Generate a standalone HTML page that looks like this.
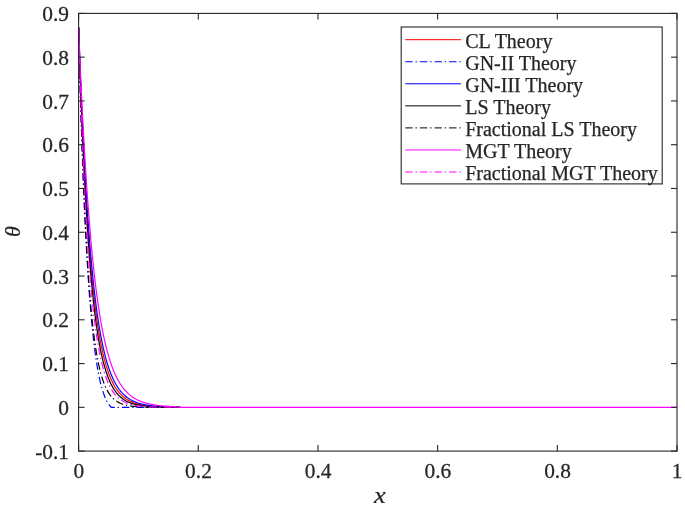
<!DOCTYPE html>
<html><head><meta charset="utf-8"><style>
html,body{margin:0;padding:0;background:#fff;}
svg{display:block;}
text{font-family:"Liberation Serif","Times New Roman",serif;fill:#262626;stroke:#262626;stroke-width:0.25px;}
</style></head><body>
<svg width="685" height="506" viewBox="0 0 685 506">
<rect x="0" y="0" width="685" height="506" fill="#fff"/>
<path d="M78.60,27.41 L78.90,36.42 L79.20,45.21 L79.50,53.80 L79.80,62.18 L80.10,70.37 L80.40,78.36 L80.69,86.16 L80.99,93.78 L81.29,101.21 L81.59,108.47 L81.89,115.56 L82.19,122.48 L82.49,129.23 L82.79,135.83 L83.09,142.27 L83.39,148.55 L83.69,154.69 L83.99,160.68 L84.28,166.53 L84.58,172.24 L84.88,177.81 L85.18,183.26 L85.48,188.57 L85.78,193.76 L86.08,198.82 L86.38,203.77 L86.68,208.60 L86.98,213.31 L87.28,217.91 L87.58,222.40 L87.88,226.79 L88.17,231.07 L88.47,235.25 L88.77,239.33 L89.07,243.31 L89.37,247.20 L89.67,251.00 L89.97,254.71 L90.27,258.33 L90.57,261.86 L90.87,265.31 L91.17,268.68 L91.47,271.97 L91.76,275.18 L92.06,278.31 L92.36,281.37 L92.66,284.36 L92.96,287.27 L93.26,290.12 L93.56,292.90 L93.86,295.61 L94.16,298.26 L94.46,300.85 L94.76,303.37 L95.06,305.84 L95.36,308.25 L95.65,310.60 L95.95,312.89 L96.25,315.13 L96.55,317.32 L96.85,319.45 L97.15,321.53 L97.45,323.57 L97.75,325.56 L98.05,327.49 L98.35,329.39 L98.65,331.24 L98.95,333.04 L99.24,334.80 L99.54,336.52 L99.84,338.20 L100.14,339.84 L100.44,341.44 L100.74,343.00 L101.04,344.53 L101.34,346.02 L101.64,347.47 L101.94,348.89 L102.24,350.28 L102.54,351.63 L102.84,352.95 L103.13,354.24 L103.43,355.50 L103.73,356.73 L104.03,357.93 L104.33,359.10 L104.63,360.24 L104.93,361.36 L105.23,362.45 L105.53,363.52 L105.83,364.55 L106.13,365.57 L106.43,366.56 L106.72,367.53 L107.02,368.47 L107.32,369.39 L107.62,370.29 L107.92,371.17 L108.22,372.03 L108.52,372.86 L108.82,373.68 L109.12,374.48 L109.42,375.26 L109.72,376.02 L110.02,376.76 L110.32,377.49 L110.61,378.19 L110.91,378.89 L111.21,379.56 L111.51,380.22 L111.81,380.86 L112.11,381.49 L112.41,382.10 L112.71,382.70 L113.01,383.28 L113.31,383.85 L113.61,384.41 L113.91,384.95 L114.20,385.49 L114.50,386.00 L114.80,386.51 L115.10,387.00 L115.40,387.48 L115.70,387.96 L116.00,388.41 L116.30,388.86 L116.60,389.30 L116.90,389.73 L117.20,390.15 L117.50,390.55 L117.80,390.95 L118.09,391.34 L118.39,391.72 L118.69,392.09 L118.99,392.45 L119.29,392.80 L119.59,393.15 L119.89,393.48 L120.19,393.81 L120.49,394.13 L120.79,394.45 L121.09,394.75 L121.39,395.05 L121.68,395.34 L121.98,395.63 L122.28,395.90 L122.58,396.17 L122.88,396.44 L123.18,396.70 L123.48,396.95 L123.78,397.20 L124.08,397.44 L124.38,397.67 L124.68,397.90 L124.98,398.12 L125.28,398.34 L125.57,398.55 L125.87,398.76 L126.17,398.97 L126.47,399.16 L126.77,399.36 L127.07,399.55 L127.37,399.73 L127.67,399.91 L127.97,400.09 L128.27,400.26 L128.57,400.43 L128.87,400.59 L129.16,400.75 L129.46,400.91 L129.76,401.06 L130.06,401.21 L130.36,401.35 L130.66,401.49 L130.96,401.63 L131.26,401.77 L131.56,401.90 L131.86,402.03 L132.16,402.15 L132.46,402.28 L132.76,402.40 L133.05,402.51 L133.35,402.63 L133.65,402.74 L133.95,402.85 L134.25,402.95 L134.55,403.06 L134.85,403.16 L135.15,403.26 L135.45,403.36 L135.75,403.45 L136.05,403.54 L136.35,403.63 L136.64,403.72 L136.94,403.80 L137.24,403.89 L137.54,403.97 L137.84,404.05 L138.14,404.13 L138.44,404.20 L138.74,404.28 L139.04,404.35 L139.34,404.42 L139.64,404.49 L139.94,404.56 L140.24,404.62 L140.53,404.69 L140.83,404.75 L141.13,404.81 L141.43,404.87 L141.73,404.93 L142.03,404.99 L142.33,405.04 L142.63,405.10 L142.93,405.15 L143.23,405.20 L143.53,405.25 L143.83,405.30 L144.12,405.35 L144.42,405.40 L144.72,405.44 L145.02,405.49 L145.32,405.53 L145.62,405.57 L145.92,405.61 L146.22,405.65 L146.52,405.69 L146.82,405.73 L147.12,405.77 L147.42,405.81 L147.72,405.84 L148.01,405.88 L148.31,405.91 L148.61,405.95 L148.91,405.98 L149.21,406.01 L149.51,406.04 L149.81,406.07 L150.11,406.10 L150.41,406.13 L150.71,406.16 L151.01,406.19 L151.31,406.22 L151.60,406.24 L151.90,406.27 L152.20,406.29 L152.50,406.32 L152.80,406.34 L153.10,406.37 L153.40,406.39 L153.70,406.41 L154.00,406.43 L154.30,406.45 L154.60,406.47 L154.90,406.49 L155.20,406.51 L155.49,406.53 L155.79,406.55 L156.09,406.57 L156.39,406.59 L156.69,406.61 L156.99,406.62 L157.29,406.64 L157.59,406.66 L157.89,406.67 L158.19,406.69 L158.49,406.70 L158.79,406.72 L159.08,406.73 L159.38,406.75 L159.68,406.76 L159.98,406.77 L160.28,406.79 L160.58,406.80 L160.88,406.81 L161.18,406.83 L161.48,406.84 L161.78,406.85 L162.08,406.86 L162.38,406.87 L162.68,406.88 L162.97,406.89 L163.27,406.90 L163.57,406.91 L163.87,406.92 L164.17,406.93 L164.47,406.94 L164.77,406.95 L165.07,406.96 L165.37,406.97 L165.67,406.98 L165.97,406.99 L166.27,406.99 L166.56,407.00 L166.86,407.01 L167.16,407.02 L167.46,407.03 L167.76,407.03 L168.06,407.04 L168.36,407.05 L168.66,407.05 L168.96,407.06 L169.26,407.07 L169.56,407.07 L169.86,407.08 L170.16,407.08 L170.45,407.09 L170.75,407.10 L171.05,407.10 L171.35,407.11 L171.65,407.11 L171.95,407.12 L172.25,407.12 L172.55,407.13 L172.85,407.13 L173.15,407.14 L173.45,407.14 L173.75,407.15 L174.04,407.15 L174.34,407.15 L174.64,407.16 L174.94,407.16 L175.24,407.17 L175.54,407.17 L175.84,407.17 L176.14,407.18 L176.44,407.18 L176.74,407.19 L177.04,407.19 L177.34,407.19 L177.64,407.20 L177.93,407.20 L178.23,407.20 L178.53,407.20 L178.83,407.21 L179.13,407.21 L179.43,407.21 L179.73,407.22 L180.03,407.22 L180.33,407.22" fill="none" stroke="#ff0000" stroke-width="1.20" stroke-linejoin="round"/>
<path d="M78.60,27.41 L78.90,39.56 L79.20,51.32 L79.50,62.71 L79.80,73.74 L80.10,84.42 L80.40,94.77 L80.69,104.79 L80.99,114.51 L81.29,123.92 L81.59,133.04 L81.89,141.88 L82.19,150.44 L82.49,158.75 L82.79,166.80 L83.09,174.60 L83.39,182.17 L83.69,189.51 L83.99,196.63 L84.28,203.53 L84.58,210.22 L84.88,216.71 L85.18,223.00 L85.48,229.11 L85.78,235.03 L86.08,240.77 L86.38,246.35 L86.68,251.75 L86.98,256.99 L87.28,262.08 L87.58,267.01 L87.88,271.80 L88.17,276.44 L88.47,280.95 L88.77,285.31 L89.07,289.55 L89.37,293.66 L89.67,297.65 L89.97,301.52 L90.27,305.27 L90.57,308.91 L90.87,312.43 L91.17,315.86 L91.47,319.17 L91.76,322.39 L92.06,325.51 L92.36,328.54 L92.66,331.47 L92.96,334.31 L93.26,337.07 L93.56,339.74 L93.86,342.33 L94.16,344.84 L94.46,347.27 L94.76,349.63 L95.06,351.91 L95.36,354.12 L95.65,356.26 L95.95,358.34 L96.25,360.35 L96.55,362.29 L96.85,364.18 L97.15,366.00 L97.45,367.77 L97.75,369.47 L98.05,371.13 L98.35,372.73 L98.65,374.27 L98.95,375.77 L99.24,377.22 L99.54,378.62 L99.84,379.97 L100.14,381.28 L100.44,382.55 L100.74,383.77 L101.04,384.95 L101.34,386.09 L101.64,387.19 L101.94,388.25 L102.24,389.28 L102.54,390.27 L102.84,391.22 L103.13,392.15 L103.43,393.03 L103.73,393.89 L104.03,394.72 L104.33,395.52 L104.63,396.28 L104.93,397.02 L105.23,397.73 L105.53,398.42 L105.83,399.08 L106.13,399.71 L106.43,400.32 L106.72,400.91 L107.02,401.47 L107.32,402.01 L107.62,402.54 L107.92,403.03 L108.22,403.51 L108.52,403.97 L108.82,404.41 L109.12,404.84 L109.42,405.24 L109.72,405.63 L110.02,406.00 L110.32,406.36 L110.61,406.70 L110.91,407.02 L111.21,407.33 L111.51,407.33 L111.81,407.33 L112.11,407.33 L112.41,407.33 L112.71,407.33 L113.01,407.33 L113.31,407.33 L113.61,407.33 L113.91,407.33 L114.20,407.33 L114.50,407.33 L114.80,407.33 L115.10,407.33 L115.40,407.33 L115.70,407.33 L116.00,407.33 L116.30,407.33 L116.60,407.33 L116.90,407.33 L117.20,407.33 L117.50,407.33 L117.80,407.33 L118.09,407.33 L118.39,407.33 L118.69,407.33 L118.99,407.33 L119.29,407.33 L119.59,407.33 L119.89,407.33 L120.19,407.33 L120.49,407.33 L120.79,407.33 L121.09,407.33 L121.39,407.33 L121.68,407.33 L121.98,407.33 L122.28,407.33 L122.58,407.33 L122.88,407.33 L123.18,407.33 L123.48,407.33 L123.78,407.33 L124.08,407.33 L124.38,407.33 L124.68,407.33 L124.98,407.33 L125.28,407.33 L125.57,407.33 L125.87,407.33 L126.17,407.33 L126.47,407.33 L126.77,407.33 L127.07,407.33 L127.37,407.33 L127.67,407.33 L127.97,407.33 L128.27,407.33 L128.57,407.33 L128.87,407.33 L129.16,407.33 L129.46,407.33 L129.76,407.33 L130.06,407.33 L130.36,407.33 L130.66,407.33 L130.96,407.33 L131.26,407.33 L131.56,407.33 L131.86,407.33 L132.16,407.33 L132.46,407.33 L132.76,407.33 L133.05,407.33 L133.35,407.33 L133.65,407.33 L133.95,407.33 L134.25,407.33 L134.55,407.33 L134.85,407.33 L135.15,407.33 L135.45,407.33 L135.75,407.33 L136.05,407.33 L136.35,407.33 L136.64,407.33 L136.94,407.33 L137.24,407.33 L137.54,407.33 L137.84,407.33 L138.14,407.33 L138.44,407.33 L138.74,407.33 L139.04,407.33 L139.34,407.33 L139.64,407.33 L139.94,407.33 L140.24,407.33 L140.53,407.33 L140.83,407.33 L141.13,407.33 L141.43,407.33 L141.73,407.33 L142.03,407.33 L142.33,407.33 L142.63,407.33 L142.93,407.33 L143.23,407.33 L143.53,407.33 L143.83,407.33 L144.12,407.33 L144.42,407.33 L144.72,407.33 L145.02,407.33 L145.32,407.33 L145.62,407.33 L145.92,407.33 L146.22,407.33 L146.52,407.33 L146.82,407.33 L147.12,407.33 L147.42,407.33 L147.72,407.33 L148.01,407.33 L148.31,407.33 L148.61,407.33 L148.91,407.33 L149.21,407.33 L149.51,407.33 L149.81,407.33 L150.11,407.33 L150.41,407.33 L150.71,407.33 L151.01,407.33 L151.31,407.33 L151.60,407.33 L151.90,407.33 L152.20,407.33 L152.50,407.33 L152.80,407.33 L153.10,407.33 L153.40,407.33 L153.70,407.33 L154.00,407.33 L154.30,407.33 L154.60,407.33 L154.90,407.33 L155.20,407.33 L155.49,407.33 L155.79,407.33 L156.09,407.33 L156.39,407.33 L156.69,407.33 L156.99,407.33 L157.29,407.33 L157.59,407.33 L157.89,407.33 L158.19,407.33 L158.49,407.33 L158.79,407.33 L159.08,407.33 L159.38,407.33 L159.68,407.33 L159.98,407.33 L160.28,407.33 L160.58,407.33 L160.88,407.33 L161.18,407.33 L161.48,407.33 L161.78,407.33 L162.08,407.33 L162.38,407.33 L162.68,407.33 L162.97,407.33 L163.27,407.33 L163.57,407.33 L163.87,407.33 L164.17,407.33 L164.47,407.33 L164.77,407.33 L165.07,407.33 L165.37,407.33 L165.67,407.33 L165.97,407.33 L166.27,407.33 L166.56,407.33 L166.86,407.33 L167.16,407.33 L167.46,407.33 L167.76,407.33 L168.06,407.33 L168.36,407.33 L168.66,407.33 L168.96,407.33 L169.26,407.33 L169.56,407.33 L169.86,407.33 L170.16,407.33 L170.45,407.33 L170.75,407.33 L171.05,407.33 L171.35,407.33 L171.65,407.33 L171.95,407.33 L172.25,407.33 L172.55,407.33 L172.85,407.33 L173.15,407.33 L173.45,407.33 L173.75,407.33 L174.04,407.33 L174.34,407.33 L174.64,407.33 L174.94,407.33 L175.24,407.33 L175.54,407.33 L175.84,407.33 L176.14,407.33 L176.44,407.33 L176.74,407.33 L177.04,407.33 L177.34,407.33 L177.64,407.33 L177.93,407.33 L178.23,407.33 L178.53,407.33 L178.83,407.33 L179.13,407.33 L179.43,407.33 L179.73,407.33 L180.03,407.33 L180.33,407.33" fill="none" stroke="#0000ff" stroke-width="1.20" stroke-dasharray="7.4 2.8 1.4 3.0" stroke-linejoin="round"/>
<path d="M78.60,27.41 L78.90,35.86 L79.20,44.12 L79.50,52.20 L79.80,60.11 L80.10,67.83 L80.40,75.38 L80.69,82.77 L80.99,89.99 L81.29,97.05 L81.59,103.95 L81.89,110.70 L82.19,117.30 L82.49,123.76 L82.79,130.07 L83.09,136.23 L83.39,142.27 L83.69,148.16 L83.99,153.93 L84.28,159.57 L84.58,165.08 L84.88,170.47 L85.18,175.74 L85.48,180.89 L85.78,185.93 L86.08,190.86 L86.38,195.67 L86.68,200.38 L86.98,204.99 L87.28,209.49 L87.58,213.89 L87.88,218.19 L88.17,222.40 L88.47,226.52 L88.77,230.54 L89.07,234.47 L89.37,238.32 L89.67,242.08 L89.97,245.75 L90.27,249.35 L90.57,252.86 L90.87,256.30 L91.17,259.66 L91.47,262.95 L91.76,266.16 L92.06,269.30 L92.36,272.37 L92.66,275.37 L92.96,278.31 L93.26,281.18 L93.56,283.99 L93.86,286.73 L94.16,289.41 L94.46,292.04 L94.76,294.60 L95.06,297.11 L95.36,299.56 L95.65,301.96 L95.95,304.31 L96.25,306.60 L96.55,308.84 L96.85,311.03 L97.15,313.17 L97.45,315.27 L97.75,317.32 L98.05,319.32 L98.35,321.28 L98.65,323.19 L98.95,325.06 L99.24,326.89 L99.54,328.68 L99.84,330.43 L100.14,332.14 L100.44,333.82 L100.74,335.45 L101.04,337.05 L101.34,338.61 L101.64,340.14 L101.94,341.64 L102.24,343.10 L102.54,344.53 L102.84,345.93 L103.13,347.29 L103.43,348.63 L103.73,349.93 L104.03,351.21 L104.33,352.46 L104.63,353.68 L104.93,354.87 L105.23,356.04 L105.53,357.18 L105.83,358.30 L106.13,359.39 L106.43,360.46 L106.72,361.50 L107.02,362.52 L107.32,363.52 L107.62,364.49 L107.92,365.44 L108.22,366.38 L108.52,367.29 L108.82,368.18 L109.12,369.05 L109.42,369.90 L109.72,370.73 L110.02,371.55 L110.32,372.34 L110.61,373.12 L110.91,373.88 L111.21,374.63 L111.51,375.35 L111.81,376.07 L112.11,376.76 L112.41,377.44 L112.71,378.11 L113.01,378.76 L113.31,379.39 L113.61,380.01 L113.91,380.62 L114.20,381.22 L114.50,381.80 L114.80,382.37 L115.10,382.92 L115.40,383.46 L115.70,383.99 L116.00,384.51 L116.30,385.02 L116.60,385.52 L116.90,386.00 L117.20,386.48 L117.50,386.94 L117.80,387.40 L118.09,387.84 L118.39,388.27 L118.69,388.70 L118.99,389.11 L119.29,389.52 L119.59,389.91 L119.89,390.30 L120.19,390.68 L120.49,391.05 L120.79,391.41 L121.09,391.77 L121.39,392.11 L121.68,392.45 L121.98,392.78 L122.28,393.11 L122.58,393.42 L122.88,393.73 L123.18,394.03 L123.48,394.33 L123.78,394.62 L124.08,394.90 L124.38,395.18 L124.68,395.45 L124.98,395.71 L125.28,395.97 L125.57,396.22 L125.87,396.47 L126.17,396.71 L126.47,396.95 L126.77,397.18 L127.07,397.41 L127.37,397.63 L127.67,397.84 L127.97,398.05 L128.27,398.26 L128.57,398.46 L128.87,398.66 L129.16,398.85 L129.46,399.04 L129.76,399.23 L130.06,399.41 L130.36,399.58 L130.66,399.75 L130.96,399.92 L131.26,400.09 L131.56,400.25 L131.86,400.41 L132.16,400.56 L132.46,400.71 L132.76,400.86 L133.05,401.00 L133.35,401.14 L133.65,401.28 L133.95,401.42 L134.25,401.55 L134.55,401.68 L134.85,401.80 L135.15,401.92 L135.45,402.04 L135.75,402.16 L136.05,402.28 L136.35,402.39 L136.64,402.50 L136.94,402.61 L137.24,402.71 L137.54,402.81 L137.84,402.92 L138.14,403.01 L138.44,403.11 L138.74,403.20 L139.04,403.30 L139.34,403.38 L139.64,403.47 L139.94,403.56 L140.24,403.64 L140.53,403.72 L140.83,403.80 L141.13,403.88 L141.43,403.96 L141.73,404.03 L142.03,404.11 L142.33,404.18 L142.63,404.25 L142.93,404.32 L143.23,404.39 L143.53,404.45 L143.83,404.51 L144.12,404.58 L144.42,404.64 L144.72,404.70 L145.02,404.76 L145.32,404.81 L145.62,404.87 L145.92,404.93 L146.22,404.98 L146.52,405.03 L146.82,405.08 L147.12,405.13 L147.42,405.18 L147.72,405.23 L148.01,405.28 L148.31,405.32 L148.61,405.37 L148.91,405.41 L149.21,405.45 L149.51,405.49 L149.81,405.54 L150.11,405.57 L150.41,405.61 L150.71,405.65 L151.01,405.69 L151.31,405.73 L151.60,405.76 L151.90,405.80 L152.20,405.83 L152.50,405.86 L152.80,405.90 L153.10,405.93 L153.40,405.96 L153.70,405.99 L154.00,406.02 L154.30,406.05 L154.60,406.08 L154.90,406.11 L155.20,406.13 L155.49,406.16 L155.79,406.19 L156.09,406.21 L156.39,406.24 L156.69,406.26 L156.99,406.28 L157.29,406.31 L157.59,406.33 L157.89,406.35 L158.19,406.37 L158.49,406.40 L158.79,406.42 L159.08,406.44 L159.38,406.46 L159.68,406.48 L159.98,406.49 L160.28,406.51 L160.58,406.53 L160.88,406.55 L161.18,406.57 L161.48,406.58 L161.78,406.60 L162.08,406.62 L162.38,406.63 L162.68,406.65 L162.97,406.66 L163.27,406.68 L163.57,406.69 L163.87,406.71 L164.17,406.72 L164.47,406.73 L164.77,406.75 L165.07,406.76 L165.37,406.77 L165.67,406.79 L165.97,406.80 L166.27,406.81 L166.56,406.82 L166.86,406.83 L167.16,406.84 L167.46,406.85 L167.76,406.86 L168.06,406.88 L168.36,406.89 L168.66,406.90 L168.96,406.90 L169.26,406.91 L169.56,406.92 L169.86,406.93 L170.16,406.94 L170.45,406.95 L170.75,406.96 L171.05,406.97 L171.35,406.97 L171.65,406.98 L171.95,406.99 L172.25,407.00 L172.55,407.01 L172.85,407.01 L173.15,407.02 L173.45,407.03 L173.75,407.03 L174.04,407.04 L174.34,407.05 L174.64,407.05 L174.94,407.06 L175.24,407.06 L175.54,407.07 L175.84,407.08 L176.14,407.08 L176.44,407.09 L176.74,407.09 L177.04,407.10 L177.34,407.10 L177.64,407.11 L177.93,407.11 L178.23,407.12 L178.53,407.12 L178.83,407.13 L179.13,407.13 L179.43,407.14 L179.73,407.14 L180.03,407.15 L180.33,407.15" fill="none" stroke="#0000ff" stroke-width="1.20" stroke-linejoin="round"/>
<path d="M78.60,27.41 L78.90,37.06 L79.20,46.48 L79.50,55.65 L79.80,64.59 L80.10,73.30 L80.40,81.79 L80.69,90.07 L80.99,98.14 L81.29,106.00 L81.59,113.66 L81.89,121.12 L82.19,128.40 L82.49,135.49 L82.79,142.40 L83.09,149.13 L83.39,155.70 L83.69,162.09 L83.99,168.33 L84.28,174.40 L84.58,180.33 L84.88,186.10 L85.18,191.72 L85.48,197.20 L85.78,202.54 L86.08,207.75 L86.38,212.82 L86.68,217.77 L86.98,222.59 L87.28,227.28 L87.58,231.86 L87.88,236.32 L88.17,240.67 L88.47,244.90 L88.77,249.03 L89.07,253.06 L89.37,256.98 L89.67,260.80 L89.97,264.53 L90.27,268.16 L90.57,271.69 L90.87,275.14 L91.17,278.50 L91.47,281.78 L91.76,284.97 L92.06,288.08 L92.36,291.11 L92.66,294.07 L92.96,296.95 L93.26,299.75 L93.56,302.49 L93.86,305.15 L94.16,307.75 L94.46,310.28 L94.76,312.75 L95.06,315.15 L95.36,317.50 L95.65,319.78 L95.95,322.00 L96.25,324.17 L96.55,326.29 L96.85,328.35 L97.15,330.36 L97.45,332.31 L97.75,334.22 L98.05,336.08 L98.35,337.89 L98.65,339.65 L98.95,341.38 L99.24,343.05 L99.54,344.69 L99.84,346.28 L100.14,347.83 L100.44,349.34 L100.74,350.82 L101.04,352.25 L101.34,353.65 L101.64,355.02 L101.94,356.35 L102.24,357.64 L102.54,358.91 L102.84,360.14 L103.13,361.34 L103.43,362.51 L103.73,363.65 L104.03,364.76 L104.33,365.84 L104.63,366.89 L104.93,367.92 L105.23,368.92 L105.53,369.90 L105.83,370.85 L106.13,371.78 L106.43,372.68 L106.72,373.56 L107.02,374.42 L107.32,375.26 L107.62,376.07 L107.92,376.87 L108.22,377.64 L108.52,378.40 L108.82,379.13 L109.12,379.85 L109.42,380.55 L109.72,381.23 L110.02,381.89 L110.32,382.54 L110.61,383.17 L110.91,383.78 L111.21,384.38 L111.51,384.97 L111.81,385.53 L112.11,386.09 L112.41,386.63 L112.71,387.15 L113.01,387.67 L113.31,388.17 L113.61,388.65 L113.91,389.13 L114.20,389.59 L114.50,390.04 L114.80,390.48 L115.10,390.91 L115.40,391.33 L115.70,391.73 L116.00,392.13 L116.30,392.52 L116.60,392.89 L116.90,393.26 L117.20,393.62 L117.50,393.97 L117.80,394.31 L118.09,394.64 L118.39,394.96 L118.69,395.28 L118.99,395.58 L119.29,395.88 L119.59,396.17 L119.89,396.45 L120.19,396.73 L120.49,397.00 L120.79,397.26 L121.09,397.52 L121.39,397.77 L121.68,398.01 L121.98,398.25 L122.28,398.48 L122.58,398.70 L122.88,398.92 L123.18,399.14 L123.48,399.35 L123.78,399.55 L124.08,399.75 L124.38,399.94 L124.68,400.13 L124.98,400.31 L125.28,400.49 L125.57,400.66 L125.87,400.83 L126.17,401.00 L126.47,401.16 L126.77,401.32 L127.07,401.47 L127.37,401.62 L127.67,401.76 L127.97,401.90 L128.27,402.04 L128.57,402.18 L128.87,402.31 L129.16,402.43 L129.46,402.56 L129.76,402.68 L130.06,402.80 L130.36,402.91 L130.66,403.03 L130.96,403.14 L131.26,403.24 L131.56,403.35 L131.86,403.45 L132.16,403.55 L132.46,403.64 L132.76,403.74 L133.05,403.83 L133.35,403.92 L133.65,404.00 L133.95,404.09 L134.25,404.17 L134.55,404.25 L134.85,404.33 L135.15,404.41 L135.45,404.48 L135.75,404.55 L136.05,404.62 L136.35,404.69 L136.64,404.76 L136.94,404.82 L137.24,404.89 L137.54,404.95 L137.84,405.01 L138.14,405.07 L138.44,405.13 L138.74,405.18 L139.04,405.24 L139.34,405.29 L139.64,405.34 L139.94,405.39 L140.24,405.44 L140.53,405.49 L140.83,405.54 L141.13,405.58 L141.43,405.63 L141.73,405.67 L142.03,405.71 L142.33,405.75 L142.63,405.79 L142.93,405.83 L143.23,405.87 L143.53,405.91 L143.83,405.94 L144.12,405.98 L144.42,406.01 L144.72,406.05 L145.02,406.08 L145.32,406.11 L145.62,406.14 L145.92,406.17 L146.22,406.20 L146.52,406.23 L146.82,406.26 L147.12,406.29 L147.42,406.31 L147.72,406.34 L148.01,406.36 L148.31,406.39 L148.61,406.41 L148.91,406.44 L149.21,406.46 L149.51,406.48 L149.81,406.50 L150.11,406.52 L150.41,406.54 L150.71,406.56 L151.01,406.58 L151.31,406.60 L151.60,406.62 L151.90,406.64 L152.20,406.66 L152.50,406.67 L152.80,406.69 L153.10,406.71 L153.40,406.72 L153.70,406.74 L154.00,406.75 L154.30,406.77 L154.60,406.78 L154.90,406.80 L155.20,406.81 L155.49,406.82 L155.79,406.84 L156.09,406.85 L156.39,406.86 L156.69,406.87 L156.99,406.88 L157.29,406.89 L157.59,406.91 L157.89,406.92 L158.19,406.93 L158.49,406.94 L158.79,406.95 L159.08,406.96 L159.38,406.97 L159.68,406.98 L159.98,406.98 L160.28,406.99 L160.58,407.00 L160.88,407.01 L161.18,407.02 L161.48,407.03 L161.78,407.03 L162.08,407.04 L162.38,407.05 L162.68,407.06 L162.97,407.06 L163.27,407.07 L163.57,407.08 L163.87,407.08 L164.17,407.09 L164.47,407.10 L164.77,407.10 L165.07,407.11 L165.37,407.11 L165.67,407.12 L165.97,407.12 L166.27,407.13 L166.56,407.13 L166.86,407.14 L167.16,407.14 L167.46,407.15 L167.76,407.15 L168.06,407.16 L168.36,407.16 L168.66,407.17 L168.96,407.17 L169.26,407.17 L169.56,407.18 L169.86,407.18 L170.16,407.19 L170.45,407.19 L170.75,407.19 L171.05,407.20 L171.35,407.20 L171.65,407.20 L171.95,407.21 L172.25,407.21 L172.55,407.21 L172.85,407.22 L173.15,407.22 L173.45,407.22 L173.75,407.22 L174.04,407.23 L174.34,407.23 L174.64,407.23 L174.94,407.23 L175.24,407.24 L175.54,407.24 L175.84,407.24 L176.14,407.24 L176.44,407.25 L176.74,407.25 L177.04,407.25 L177.34,407.25 L177.64,407.25 L177.93,407.26 L178.23,407.26 L178.53,407.26 L178.83,407.26 L179.13,407.26 L179.43,407.27 L179.73,407.27 L180.03,407.27 L180.33,407.27" fill="none" stroke="#000000" stroke-width="1.20" stroke-linejoin="round"/>
<path d="M78.60,27.41 L78.90,39.56 L79.20,51.32 L79.50,62.70 L79.80,73.72 L80.10,84.39 L80.40,94.72 L80.69,104.71 L80.99,114.39 L81.29,123.76 L81.59,132.82 L81.89,141.60 L82.19,150.10 L82.49,158.33 L82.79,166.29 L83.09,174.00 L83.39,181.46 L83.69,188.68 L83.99,195.67 L84.28,202.44 L84.58,208.99 L84.88,215.33 L85.18,221.47 L85.48,227.42 L85.78,233.17 L86.08,238.74 L86.38,244.13 L86.68,249.35 L86.98,254.40 L87.28,259.29 L87.58,264.03 L87.88,268.61 L88.17,273.04 L88.47,277.34 L88.77,281.50 L89.07,285.52 L89.37,289.41 L89.67,293.18 L89.97,296.84 L90.27,300.37 L90.57,303.79 L90.87,307.10 L91.17,310.30 L91.47,313.41 L91.76,316.41 L92.06,319.32 L92.36,322.13 L92.66,324.86 L92.96,327.49 L93.26,330.05 L93.56,332.52 L93.86,334.91 L94.16,337.23 L94.46,339.47 L94.76,341.64 L95.06,343.74 L95.36,345.77 L95.65,347.74 L95.95,349.65 L96.25,351.49 L96.55,353.28 L96.85,355.01 L97.15,356.68 L97.45,358.30 L97.75,359.87 L98.05,361.38 L98.35,362.85 L98.65,364.28 L98.95,365.65 L99.24,366.98 L99.54,368.28 L99.84,369.52 L100.14,370.73 L100.44,371.90 L100.74,373.04 L101.04,374.13 L101.34,375.19 L101.64,376.22 L101.94,377.22 L102.24,378.18 L102.54,379.11 L102.84,380.01 L103.13,380.89 L103.43,381.73 L103.73,382.55 L104.03,383.34 L104.33,384.11 L104.63,384.85 L104.93,385.57 L105.23,386.27 L105.53,386.94 L105.83,387.59 L106.13,388.22 L106.43,388.84 L106.72,389.43 L107.02,390.00 L107.32,390.55 L107.62,391.09 L107.92,391.61 L108.22,392.11 L108.52,392.60 L108.82,393.07 L109.12,393.53 L109.42,393.97 L109.72,394.39 L110.02,394.81 L110.32,395.21 L110.61,395.60 L110.91,395.97 L111.21,396.33 L111.51,396.69 L111.81,397.03 L112.11,397.36 L112.41,397.68 L112.71,397.98 L113.01,398.28 L113.31,398.57 L113.61,398.85 L113.91,399.12 L114.20,399.39 L114.50,399.64 L114.80,399.89 L115.10,400.12 L115.40,400.35 L115.70,400.58 L116.00,400.79 L116.30,401.00 L116.60,401.20 L116.90,401.40 L117.20,401.59 L117.50,401.77 L117.80,401.95 L118.09,402.12 L118.39,402.29 L118.69,402.45 L118.99,402.61 L119.29,402.76 L119.59,402.90 L119.89,403.05 L120.19,403.18 L120.49,403.32 L120.79,403.44 L121.09,403.57 L121.39,403.69 L121.68,403.80 L121.98,403.92 L122.28,404.03 L122.58,404.13 L122.88,404.23 L123.18,404.33 L123.48,404.43 L123.78,404.52 L124.08,404.61 L124.38,404.70 L124.68,404.78 L124.98,404.86 L125.28,404.94 L125.57,405.02 L125.87,405.09 L126.17,405.16 L126.47,405.23 L126.77,405.30 L127.07,405.37 L127.37,405.43 L127.67,405.49 L127.97,405.55 L128.27,405.61 L128.57,405.66 L128.87,405.71 L129.16,405.77 L129.46,405.82 L129.76,405.86 L130.06,405.91 L130.36,405.96 L130.66,406.00 L130.96,406.04 L131.26,406.08 L131.56,406.12 L131.86,406.16 L132.16,406.20 L132.46,406.24 L132.76,406.27 L133.05,406.30 L133.35,406.34 L133.65,406.37 L133.95,406.40 L134.25,406.43 L134.55,406.46 L134.85,406.49 L135.15,406.51 L135.45,406.54 L135.75,406.56 L136.05,406.59 L136.35,406.61 L136.64,406.64 L136.94,406.66 L137.24,406.68 L137.54,406.70 L137.84,406.72 L138.14,406.74 L138.44,406.76 L138.74,406.78 L139.04,406.79 L139.34,406.81 L139.64,406.83 L139.94,406.84 L140.24,406.86 L140.53,406.88 L140.83,406.89 L141.13,406.90 L141.43,406.92 L141.73,406.93 L142.03,406.94 L142.33,406.96 L142.63,406.97 L142.93,406.98 L143.23,406.99 L143.53,407.00 L143.83,407.01 L144.12,407.02 L144.42,407.03 L144.72,407.04 L145.02,407.05 L145.32,407.06 L145.62,407.07 L145.92,407.08 L146.22,407.08 L146.52,407.09 L146.82,407.10 L147.12,407.11 L147.42,407.11 L147.72,407.12 L148.01,407.13 L148.31,407.13 L148.61,407.14 L148.91,407.15 L149.21,407.15 L149.51,407.16 L149.81,407.16 L150.11,407.17 L150.41,407.17 L150.71,407.18 L151.01,407.18 L151.31,407.19 L151.60,407.19 L151.90,407.20 L152.20,407.20 L152.50,407.21 L152.80,407.21 L153.10,407.21 L153.40,407.22 L153.70,407.22 L154.00,407.22 L154.30,407.23 L154.60,407.23 L154.90,407.23 L155.20,407.24 L155.49,407.24 L155.79,407.24 L156.09,407.25 L156.39,407.25 L156.69,407.25 L156.99,407.25 L157.29,407.26 L157.59,407.26 L157.89,407.26 L158.19,407.26 L158.49,407.27 L158.79,407.27 L159.08,407.27 L159.38,407.27 L159.68,407.27 L159.98,407.27 L160.28,407.28 L160.58,407.28 L160.88,407.28 L161.18,407.28 L161.48,407.28 L161.78,407.28 L162.08,407.29 L162.38,407.29 L162.68,407.29 L162.97,407.29 L163.27,407.29 L163.57,407.29 L163.87,407.29 L164.17,407.30 L164.47,407.30 L164.77,407.30 L165.07,407.30 L165.37,407.30 L165.67,407.30 L165.97,407.30 L166.27,407.30 L166.56,407.30 L166.86,407.30 L167.16,407.30 L167.46,407.31 L167.76,407.31 L168.06,407.31 L168.36,407.31 L168.66,407.31 L168.96,407.31 L169.26,407.31 L169.56,407.31 L169.86,407.31 L170.16,407.31 L170.45,407.31 L170.75,407.31 L171.05,407.31 L171.35,407.31 L171.65,407.31 L171.95,407.32 L172.25,407.32 L172.55,407.32 L172.85,407.32 L173.15,407.32 L173.45,407.32 L173.75,407.32 L174.04,407.32 L174.34,407.32 L174.64,407.32 L174.94,407.32 L175.24,407.32 L175.54,407.32 L175.84,407.32 L176.14,407.32 L176.44,407.32 L176.74,407.32 L177.04,407.32 L177.34,407.32 L177.64,407.32 L177.93,407.32 L178.23,407.32 L178.53,407.32 L178.83,407.32 L179.13,407.32 L179.43,407.32 L179.73,407.32 L180.03,407.32 L180.33,407.32" fill="none" stroke="#000000" stroke-width="1.20" stroke-dasharray="7.4 2.8 1.4 3.0" stroke-linejoin="round"/>
<path d="M78.60,27.41 L78.90,34.93 L79.20,42.30 L79.50,49.53 L79.80,56.62 L80.10,63.56 L80.40,70.37 L80.69,77.04 L80.99,83.58 L81.29,89.99 L81.59,96.27 L81.89,102.43 L82.19,108.47 L82.49,114.39 L82.79,120.19 L83.09,125.88 L83.39,131.45 L83.69,136.91 L83.99,142.27 L84.28,147.51 L84.58,152.66 L84.88,157.70 L85.18,162.65 L85.48,167.49 L85.78,172.24 L86.08,176.89 L86.38,181.46 L86.68,185.93 L86.98,190.31 L87.28,194.61 L87.58,198.82 L87.88,202.95 L88.17,207.00 L88.47,210.97 L88.77,214.85 L89.07,218.67 L89.37,222.40 L89.67,226.06 L89.97,229.65 L90.27,233.17 L90.57,236.62 L90.87,240.00 L91.17,243.31 L91.47,246.56 L91.76,249.74 L92.06,252.86 L92.36,255.92 L92.66,258.92 L92.96,261.86 L93.26,264.74 L93.56,267.56 L93.86,270.33 L94.16,273.04 L94.46,275.70 L94.76,278.31 L95.06,280.86 L95.36,283.37 L95.65,285.82 L95.95,288.23 L96.25,290.59 L96.55,292.90 L96.85,295.17 L97.15,297.39 L97.45,299.56 L97.75,301.70 L98.05,303.79 L98.35,305.84 L98.65,307.85 L98.95,309.82 L99.24,311.75 L99.54,313.64 L99.84,315.50 L100.14,317.32 L100.44,319.10 L100.74,320.85 L101.04,322.56 L101.34,324.24 L101.64,325.88 L101.94,327.49 L102.24,329.08 L102.54,330.62 L102.84,332.14 L103.13,333.63 L103.43,335.09 L103.73,336.52 L104.03,337.92 L104.33,339.30 L104.63,340.65 L104.93,341.97 L105.23,343.26 L105.53,344.53 L105.83,345.77 L106.13,346.99 L106.43,348.19 L106.72,349.36 L107.02,350.51 L107.32,351.63 L107.62,352.73 L107.92,353.81 L108.22,354.87 L108.52,355.91 L108.82,356.93 L109.12,357.93 L109.42,358.91 L109.72,359.87 L110.02,360.81 L110.32,361.73 L110.61,362.63 L110.91,363.52 L111.21,364.38 L111.51,365.23 L111.81,366.07 L112.11,366.88 L112.41,367.68 L112.71,368.47 L113.01,369.24 L113.31,369.99 L113.61,370.73 L113.91,371.46 L114.20,372.17 L114.50,372.86 L114.80,373.55 L115.10,374.22 L115.40,374.87 L115.70,375.51 L116.00,376.14 L116.30,376.76 L116.60,377.37 L116.90,377.96 L117.20,378.54 L117.50,379.11 L117.80,379.67 L118.09,380.22 L118.39,380.76 L118.69,381.28 L118.99,381.80 L119.29,382.30 L119.59,382.80 L119.89,383.28 L120.19,383.76 L120.49,384.23 L120.79,384.68 L121.09,385.13 L121.39,385.57 L121.68,386.00 L121.98,386.43 L122.28,386.84 L122.58,387.25 L122.88,387.64 L123.18,388.03 L123.48,388.41 L123.78,388.79 L124.08,389.16 L124.38,389.52 L124.68,389.87 L124.98,390.21 L125.28,390.55 L125.57,390.89 L125.87,391.21 L126.17,391.53 L126.47,391.84 L126.77,392.15 L127.07,392.45 L127.37,392.75 L127.67,393.03 L127.97,393.32 L128.27,393.59 L128.57,393.87 L128.87,394.13 L129.16,394.39 L129.46,394.65 L129.76,394.90 L130.06,395.15 L130.36,395.39 L130.66,395.63 L130.96,395.86 L131.26,396.08 L131.56,396.31 L131.86,396.53 L132.16,396.74 L132.46,396.95 L132.76,397.15 L133.05,397.36 L133.35,397.55 L133.65,397.75 L133.95,397.94 L134.25,398.12 L134.55,398.31 L134.85,398.48 L135.15,398.66 L135.45,398.83 L135.75,399.00 L136.05,399.16 L136.35,399.33 L136.64,399.48 L136.94,399.64 L137.24,399.79 L137.54,399.94 L137.84,400.09 L138.14,400.23 L138.44,400.37 L138.74,400.51 L139.04,400.64 L139.34,400.78 L139.64,400.91 L139.94,401.03 L140.24,401.16 L140.53,401.28 L140.83,401.40 L141.13,401.52 L141.43,401.63 L141.73,401.75 L142.03,401.86 L142.33,401.96 L142.63,402.07 L142.93,402.17 L143.23,402.28 L143.53,402.38 L143.83,402.48 L144.12,402.57 L144.42,402.67 L144.72,402.76 L145.02,402.85 L145.32,402.94 L145.62,403.02 L145.92,403.11 L146.22,403.19 L146.52,403.27 L146.82,403.36 L147.12,403.43 L147.42,403.51 L147.72,403.59 L148.01,403.66 L148.31,403.73 L148.61,403.80 L148.91,403.87 L149.21,403.94 L149.51,404.01 L149.81,404.08 L150.11,404.14 L150.41,404.20 L150.71,404.27 L151.01,404.33 L151.31,404.39 L151.60,404.44 L151.90,404.50 L152.20,404.56 L152.50,404.61 L152.80,404.67 L153.10,404.72 L153.40,404.77 L153.70,404.82 L154.00,404.87 L154.30,404.92 L154.60,404.97 L154.90,405.01 L155.20,405.06 L155.49,405.10 L155.79,405.15 L156.09,405.19 L156.39,405.23 L156.69,405.28 L156.99,405.32 L157.29,405.36 L157.59,405.40 L157.89,405.43 L158.19,405.47 L158.49,405.51 L158.79,405.54 L159.08,405.58 L159.38,405.61 L159.68,405.65 L159.98,405.68 L160.28,405.71 L160.58,405.75 L160.88,405.78 L161.18,405.81 L161.48,405.84 L161.78,405.87 L162.08,405.90 L162.38,405.93 L162.68,405.95 L162.97,405.98 L163.27,406.01 L163.57,406.03 L163.87,406.06 L164.17,406.08 L164.47,406.11 L164.77,406.13 L165.07,406.16 L165.37,406.18 L165.67,406.20 L165.97,406.22 L166.27,406.25 L166.56,406.27 L166.86,406.29 L167.16,406.31 L167.46,406.33 L167.76,406.35 L168.06,406.37 L168.36,406.39 L168.66,406.41 L168.96,406.43 L169.26,406.44 L169.56,406.46 L169.86,406.48 L170.16,406.49 L170.45,406.51 L170.75,406.53 L171.05,406.54 L171.35,406.56 L171.65,406.57 L171.95,406.59 L172.25,406.60 L172.55,406.62 L172.85,406.63 L173.15,406.65 L173.45,406.66 L173.75,406.67 L174.04,406.69 L174.34,406.70 L174.64,406.71 L174.94,406.72 L175.24,406.74 L175.54,406.75 L175.84,406.76 L176.14,406.77 L176.44,406.78 L176.74,406.79 L177.04,406.80 L177.34,406.81 L177.64,406.82 L177.93,406.83 L178.23,406.84 L178.53,406.85 L178.83,406.86 L179.13,406.87 L179.43,406.88 L179.73,406.89 L180.03,406.90 L180.33,406.91" fill="none" stroke="#ff00ff" stroke-width="1.20" stroke-linejoin="round"/>
<path d="M78.60,27.41 L78.90,37.80 L79.20,47.92 L79.50,57.75 L79.80,67.32 L80.10,76.63 L80.40,85.68 L80.69,94.48 L80.99,103.04 L81.29,111.37 L81.59,119.47 L81.89,127.35 L82.19,135.01 L82.49,142.47 L82.79,149.71 L83.09,156.76 L83.39,163.62 L83.69,170.29 L83.99,176.78 L84.28,183.09 L84.58,189.23 L84.88,195.20 L85.18,201.00 L85.48,206.65 L85.78,212.14 L86.08,217.48 L86.38,222.68 L86.68,227.73 L86.98,232.65 L87.28,237.43 L87.58,242.08 L87.88,246.60 L88.17,251.00 L88.47,255.28 L88.77,259.44 L89.07,263.49 L89.37,267.42 L89.67,271.25 L89.97,274.98 L90.27,278.60 L90.57,282.12 L90.87,285.55 L91.17,288.88 L91.47,292.12 L91.76,295.28 L92.06,298.34 L92.36,301.33 L92.66,304.23 L92.96,307.05 L93.26,309.79 L93.56,312.46 L93.86,315.06 L94.16,317.59 L94.46,320.04 L94.76,322.43 L95.06,324.75 L95.36,327.01 L95.65,329.21 L95.95,331.35 L96.25,333.43 L96.55,335.45 L96.85,337.42 L97.15,339.33 L97.45,341.19 L97.75,343.00 L98.05,344.76 L98.35,346.48 L98.65,348.14 L98.95,349.76 L99.24,351.34 L99.54,352.87 L99.84,354.36 L100.14,355.81 L100.44,357.22 L100.74,358.59 L101.04,359.93 L101.34,361.22 L101.64,362.48 L101.94,363.71 L102.24,364.91 L102.54,366.07 L102.84,367.20 L103.13,368.29 L103.43,369.36 L103.73,370.40 L104.03,371.41 L104.33,372.40 L104.63,373.35 L104.93,374.28 L105.23,375.19 L105.53,376.07 L105.83,376.92 L106.13,377.75 L106.43,378.56 L106.72,379.35 L107.02,380.12 L107.32,380.86 L107.62,381.59 L107.92,382.29 L108.22,382.98 L108.52,383.64 L108.82,384.29 L109.12,384.92 L109.42,385.53 L109.72,386.13 L110.02,386.71 L110.32,387.28 L110.61,387.82 L110.91,388.36 L111.21,388.88 L111.51,389.38 L111.81,389.87 L112.11,390.35 L112.41,390.82 L112.71,391.27 L113.01,391.71 L113.31,392.13 L113.61,392.55 L113.91,392.96 L114.20,393.35 L114.50,393.73 L114.80,394.10 L115.10,394.47 L115.40,394.82 L115.70,395.16 L116.00,395.49 L116.30,395.82 L116.60,396.13 L116.90,396.44 L117.20,396.74 L117.50,397.03 L117.80,397.31 L118.09,397.58 L118.39,397.85 L118.69,398.11 L118.99,398.36 L119.29,398.61 L119.59,398.85 L119.89,399.08 L120.19,399.30 L120.49,399.52 L120.79,399.74 L121.09,399.94 L121.39,400.15 L121.68,400.34 L121.98,400.53 L122.28,400.72 L122.58,400.90 L122.88,401.08 L123.18,401.25 L123.48,401.42 L123.78,401.58 L124.08,401.73 L124.38,401.89 L124.68,402.04 L124.98,402.18 L125.28,402.32 L125.57,402.46 L125.87,402.59 L126.17,402.72 L126.47,402.85 L126.77,402.97 L127.07,403.09 L127.37,403.21 L127.67,403.32 L127.97,403.43 L128.27,403.54 L128.57,403.64 L128.87,403.74 L129.16,403.84 L129.46,403.93 L129.76,404.03 L130.06,404.12 L130.36,404.21 L130.66,404.29 L130.96,404.37 L131.26,404.46 L131.56,404.53 L131.86,404.61 L132.16,404.68 L132.46,404.76 L132.76,404.83 L133.05,404.90 L133.35,404.96 L133.65,405.03 L133.95,405.09 L134.25,405.15 L134.55,405.21 L134.85,405.27 L135.15,405.33 L135.45,405.38 L135.75,405.43 L136.05,405.49 L136.35,405.54 L136.64,405.59 L136.94,405.63 L137.24,405.68 L137.54,405.72 L137.84,405.77 L138.14,405.81 L138.44,405.85 L138.74,405.89 L139.04,405.93 L139.34,405.97 L139.64,406.01 L139.94,406.04 L140.24,406.08 L140.53,406.11 L140.83,406.15 L141.13,406.18 L141.43,406.21 L141.73,406.24 L142.03,406.27 L142.33,406.30 L142.63,406.33 L142.93,406.36 L143.23,406.38 L143.53,406.41 L143.83,406.43 L144.12,406.46 L144.42,406.48 L144.72,406.51 L145.02,406.53 L145.32,406.55 L145.62,406.57 L145.92,406.59 L146.22,406.61 L146.52,406.63 L146.82,406.65 L147.12,406.67 L147.42,406.69 L147.72,406.71 L148.01,406.72 L148.31,406.74 L148.61,406.76 L148.91,406.77 L149.21,406.79 L149.51,406.80 L149.81,406.82 L150.11,406.83 L150.41,406.84 L150.71,406.86 L151.01,406.87 L151.31,406.88 L151.60,406.89 L151.90,406.91 L152.20,406.92 L152.50,406.93 L152.80,406.94 L153.10,406.95 L153.40,406.96 L153.70,406.97 L154.00,406.98 L154.30,406.99 L154.60,407.00 L154.90,407.01 L155.20,407.02 L155.49,407.03 L155.79,407.03 L156.09,407.04 L156.39,407.05 L156.69,407.06 L156.99,407.07 L157.29,407.07 L157.59,407.08 L157.89,407.09 L158.19,407.09 L158.49,407.10 L158.79,407.11 L159.08,407.11 L159.38,407.12 L159.68,407.12 L159.98,407.13 L160.28,407.14 L160.58,407.14 L160.88,407.15 L161.18,407.15 L161.48,407.16 L161.78,407.16 L162.08,407.17 L162.38,407.17 L162.68,407.17 L162.97,407.18 L163.27,407.18 L163.57,407.19 L163.87,407.19 L164.17,407.19 L164.47,407.20 L164.77,407.20 L165.07,407.21 L165.37,407.21 L165.67,407.21 L165.97,407.22 L166.27,407.22 L166.56,407.22 L166.86,407.22 L167.16,407.23 L167.46,407.23 L167.76,407.23 L168.06,407.24 L168.36,407.24 L168.66,407.24 L168.96,407.24 L169.26,407.25 L169.56,407.25 L169.86,407.25 L170.16,407.25 L170.45,407.25 L170.75,407.26 L171.05,407.26 L171.35,407.26 L171.65,407.26 L171.95,407.26 L172.25,407.27 L172.55,407.27 L172.85,407.27 L173.15,407.27 L173.45,407.27 L173.75,407.27 L174.04,407.28 L174.34,407.28 L174.64,407.28 L174.94,407.28 L175.24,407.28 L175.54,407.28 L175.84,407.28 L176.14,407.29 L176.44,407.29 L176.74,407.29 L177.04,407.29 L177.34,407.29 L177.64,407.29 L177.93,407.29 L178.23,407.29 L178.53,407.29 L178.83,407.30 L179.13,407.30 L179.43,407.30 L179.73,407.30 L180.03,407.30 L180.33,407.30" fill="none" stroke="#ff00ff" stroke-width="1.20" stroke-dasharray="7.4 2.8 1.4 3.0" stroke-linejoin="round"/>
<path d="M180.33,407.33 L677.00,407.33" fill="none" stroke="#ff00ff" stroke-width="1.20"/>
<g stroke="#262626" stroke-width="1.1" fill="none">
<rect x="78.60" y="13.40" width="598.40" height="437.70"/>
<line x1="78.60" y1="451.10" x2="84.60" y2="451.10"/><line x1="677.00" y1="451.10" x2="671.00" y2="451.10"/>
<line x1="78.60" y1="407.33" x2="84.60" y2="407.33"/><line x1="677.00" y1="407.33" x2="671.00" y2="407.33"/>
<line x1="78.60" y1="363.56" x2="84.60" y2="363.56"/><line x1="677.00" y1="363.56" x2="671.00" y2="363.56"/>
<line x1="78.60" y1="319.79" x2="84.60" y2="319.79"/><line x1="677.00" y1="319.79" x2="671.00" y2="319.79"/>
<line x1="78.60" y1="276.02" x2="84.60" y2="276.02"/><line x1="677.00" y1="276.02" x2="671.00" y2="276.02"/>
<line x1="78.60" y1="232.25" x2="84.60" y2="232.25"/><line x1="677.00" y1="232.25" x2="671.00" y2="232.25"/>
<line x1="78.60" y1="188.48" x2="84.60" y2="188.48"/><line x1="677.00" y1="188.48" x2="671.00" y2="188.48"/>
<line x1="78.60" y1="144.71" x2="84.60" y2="144.71"/><line x1="677.00" y1="144.71" x2="671.00" y2="144.71"/>
<line x1="78.60" y1="100.94" x2="84.60" y2="100.94"/><line x1="677.00" y1="100.94" x2="671.00" y2="100.94"/>
<line x1="78.60" y1="57.17" x2="84.60" y2="57.17"/><line x1="677.00" y1="57.17" x2="671.00" y2="57.17"/>
<line x1="78.60" y1="13.40" x2="84.60" y2="13.40"/><line x1="677.00" y1="13.40" x2="671.00" y2="13.40"/>
<line x1="78.60" y1="451.10" x2="78.60" y2="445.10"/><line x1="78.60" y1="13.40" x2="78.60" y2="19.40"/>
<line x1="198.28" y1="451.10" x2="198.28" y2="445.10"/><line x1="198.28" y1="13.40" x2="198.28" y2="19.40"/>
<line x1="317.96" y1="451.10" x2="317.96" y2="445.10"/><line x1="317.96" y1="13.40" x2="317.96" y2="19.40"/>
<line x1="437.64" y1="451.10" x2="437.64" y2="445.10"/><line x1="437.64" y1="13.40" x2="437.64" y2="19.40"/>
<line x1="557.32" y1="451.10" x2="557.32" y2="445.10"/><line x1="557.32" y1="13.40" x2="557.32" y2="19.40"/>
<line x1="677.00" y1="451.10" x2="677.00" y2="445.10"/><line x1="677.00" y1="13.40" x2="677.00" y2="19.40"/>
</g>
<text transform="translate(69.00,458.80) scale(1.070,1)" font-size="20" text-anchor="end">-0.1</text>
<text transform="translate(69.00,415.03) scale(1.070,1)" font-size="20" text-anchor="end">0</text>
<text transform="translate(69.00,371.26) scale(1.070,1)" font-size="20" text-anchor="end">0.1</text>
<text transform="translate(69.00,327.49) scale(1.070,1)" font-size="20" text-anchor="end">0.2</text>
<text transform="translate(69.00,283.72) scale(1.070,1)" font-size="20" text-anchor="end">0.3</text>
<text transform="translate(69.00,239.95) scale(1.070,1)" font-size="20" text-anchor="end">0.4</text>
<text transform="translate(69.00,196.18) scale(1.070,1)" font-size="20" text-anchor="end">0.5</text>
<text transform="translate(69.00,152.41) scale(1.070,1)" font-size="20" text-anchor="end">0.6</text>
<text transform="translate(69.00,108.64) scale(1.070,1)" font-size="20" text-anchor="end">0.7</text>
<text transform="translate(69.00,64.87) scale(1.070,1)" font-size="20" text-anchor="end">0.8</text>
<text transform="translate(69.00,21.10) scale(1.070,1)" font-size="20" text-anchor="end">0.9</text>
<text transform="translate(78.80,478.00) scale(1.070,1)" font-size="20" text-anchor="middle">0</text>
<text transform="translate(198.48,478.00) scale(1.070,1)" font-size="20" text-anchor="middle">0.2</text>
<text transform="translate(318.16,478.00) scale(1.070,1)" font-size="20" text-anchor="middle">0.4</text>
<text transform="translate(437.84,478.00) scale(1.070,1)" font-size="20" text-anchor="middle">0.6</text>
<text transform="translate(557.52,478.00) scale(1.070,1)" font-size="20" text-anchor="middle">0.8</text>
<text transform="translate(677.20,478.00) scale(1.070,1)" font-size="20" text-anchor="middle">1</text>
<text transform="translate(379.8,503.2) scale(1.15,1)" font-size="23" font-style="italic" text-anchor="middle">x</text>
<text transform="translate(19.8,231.6) rotate(-90)" font-size="22" font-style="italic" text-anchor="middle">&#952;</text>
<rect x="401.20" y="27.00" width="261.00" height="156.90" fill="#fff" stroke="#262626" stroke-width="1.1"/>
<line x1="405.3" y1="39.70" x2="461" y2="39.70" stroke="#ff0000" stroke-width="1.00"/>
<text x="465.2" y="47.90" font-size="20">CL Theory</text>
<line x1="405.3" y1="61.75" x2="461" y2="61.75" stroke="#0000ff" stroke-width="1.00" stroke-dasharray="7.4 2.8 1.4 3.0"/>
<text x="465.2" y="69.95" font-size="20">GN-II Theory</text>
<line x1="405.3" y1="83.80" x2="461" y2="83.80" stroke="#0000ff" stroke-width="1.00"/>
<text x="465.2" y="92.00" font-size="20">GN-III Theory</text>
<line x1="405.3" y1="105.85" x2="461" y2="105.85" stroke="#000000" stroke-width="1.00"/>
<text x="465.2" y="114.05" font-size="20">LS Theory</text>
<line x1="405.3" y1="127.90" x2="461" y2="127.90" stroke="#000000" stroke-width="1.00" stroke-dasharray="7.4 2.8 1.4 3.0"/>
<text x="465.2" y="136.10" font-size="20">Fractional LS Theory</text>
<line x1="405.3" y1="149.95" x2="461" y2="149.95" stroke="#ff00ff" stroke-width="1.00"/>
<text x="465.2" y="158.15" font-size="20">MGT Theory</text>
<line x1="405.3" y1="172.00" x2="461" y2="172.00" stroke="#ff00ff" stroke-width="1.00" stroke-dasharray="7.4 2.8 1.4 3.0"/>
<text x="465.2" y="180.20" font-size="20">Fractional MGT Theory</text>
</svg>
</body></html>
